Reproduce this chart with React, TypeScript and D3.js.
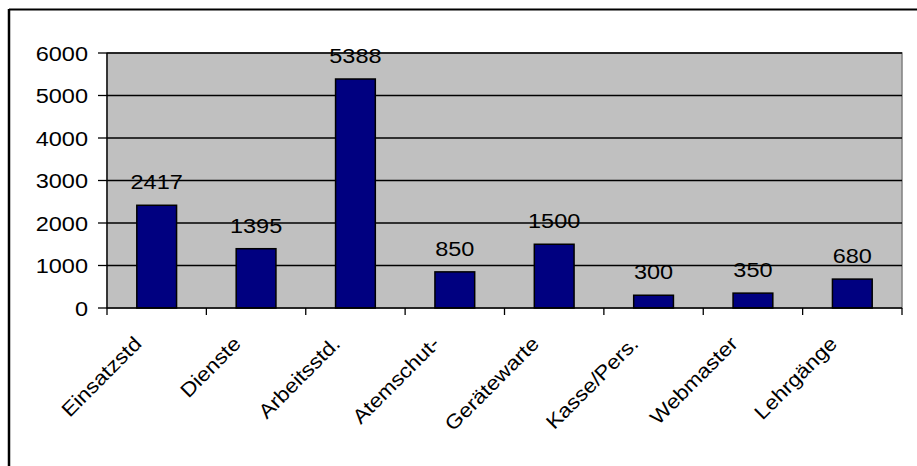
import React from 'react'
import * as d3 from 'd3'

const categories = ['Einsatzstd', 'Dienste', 'Arbeitsstd.', 'Atemschut-', 'Gerätewarte', 'Kasse/Pers.', 'Webmaster', 'Lehrgänge']
const values = [2417, 1395, 5388, 850, 1500, 300, 350, 680]
const yTicks = [0, 1000, 2000, 3000, 4000, 5000, 6000]

const W = 917
const H = 466
const plot = { left: 107, right: 902, top: 53, bottom: 308 }
const font = '"Liberation Sans", Arial, sans-serif'
// the original text is rendered a bit wider than plain Arial
const stretch = 1.12

export default function App() {
  const x = d3.scaleBand<string>()
    .domain(categories)
    .range([plot.left, plot.right])
    .paddingInner(0.6)
    .paddingOuter(0.3)
  const band = d3.scaleBand<string>().domain(categories).range([plot.left, plot.right])
  const y = d3.scaleLinear().domain([0, 6000]).range([plot.bottom, plot.top])

  return (
    <svg width={W} height={H} style={{ position: 'absolute', left: 0, top: 0 }} fontFamily={font}>
      <rect x={0} y={0} width={W} height={H} fill="#fff" />
      {/* outer chart border (cropped on right / bottom) */}
      <line x1={9} x2={W} y1={9.5} y2={9.5} stroke="#000" strokeWidth={2} />
      <line x1={9} x2={9} y1={9} y2={H} stroke="#000" strokeWidth={2.5} />

      {/* plot area */}
      <rect x={plot.left} y={plot.top} width={plot.right - plot.left} height={plot.bottom - plot.top}
        fill="#c0c0c0" stroke="#808080" strokeWidth={1.5} />

      {/* gridlines */}
      {yTicks.filter(t => t > 0).map(t => (
        <line key={t} x1={plot.left} x2={plot.right} y1={y(t)} y2={y(t)} stroke="#000" strokeWidth={1.3} />
      ))}

      {/* y axis */}
      <line x1={plot.left} x2={plot.left} y1={plot.top} y2={plot.bottom} stroke="#000" strokeWidth={1.3} />
      {yTicks.map(t => (
        <g key={t}>
          <line x1={plot.left - 9} x2={plot.left} y1={y(t)} y2={y(t)} stroke="#000" strokeWidth={1.3} />
          <text transform={`translate(88,${y(t)}) scale(${stretch},1)`} dy="0.36em" textAnchor="end"
            fontSize={21} fill="#000">{t}</text>
        </g>
      ))}

      {/* bars */}
      {categories.map((c, i) => (
        <rect key={c} x={x(c)} y={y(values[i])} width={x.bandwidth()} height={y(0) - y(values[i])}
          fill="#000080" stroke="#000" strokeWidth={1.5} />
      ))}

      {/* x axis */}
      <line x1={plot.left} x2={plot.right} y1={plot.bottom} y2={plot.bottom} stroke="#000" strokeWidth={1.3} />
      {categories.map(c => band(c)!).concat([plot.right]).map((px, i) => (
        <line key={i} x1={px} x2={px} y1={plot.bottom} y2={plot.bottom + 7} stroke="#000" strokeWidth={1.3} />
      ))}

      {/* value labels */}
      {categories.map((c, i) => (
        <text key={c}
          transform={`translate(${x(c)! + x.bandwidth() / 2},${y(values[i]) - 16}) scale(${stretch},1)`}
          textAnchor="middle" fontSize={21} fill="#000">
          {values[i]}
        </text>
      ))}

      {/* category labels */}
      {categories.map(c => {
        const cx = band(c)! + band.bandwidth() / 2 - 14
        const cy = 345
        return (
          <text key={c} textAnchor="end" fontSize={20} fill="#000"
            transform={`translate(${cx},${cy}) rotate(-45) scale(${stretch},1)`}>
            {c}
          </text>
        )
      })}
    </svg>
  )
}
